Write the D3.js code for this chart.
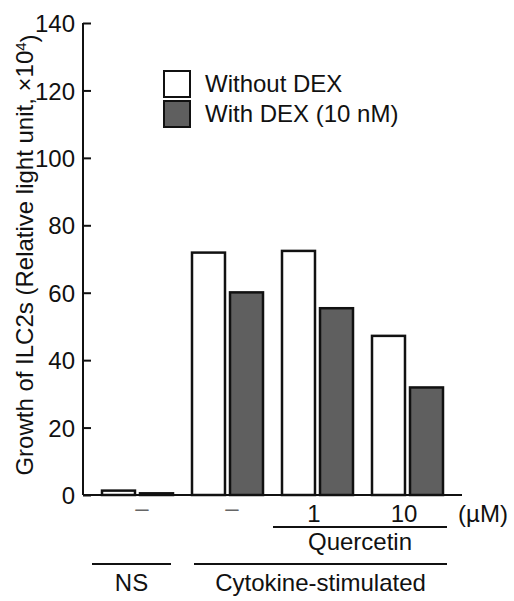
<!DOCTYPE html>
<html lang="en">
	<head>
		<meta charset="utf-8">
		<title>D3: ILC2 growth</title>
		<script type="text/javascript" src="https://cdn.jsdelivr.net/npm/d3@7"></script>
		<style type="text/css">
		body { margin: 0; background: #fff; }
		text { font-family: "Liberation Sans", Arial, Helvetica, sans-serif; fill: #111; }
		.axis path, .axis line { stroke: #111; stroke-width: 2; }
		</style>
	</head>
	<body>
		<script type="text/javascript">

		//Width and height
		var w = 514;
		var h = 601;
		var fs = "24px";

		//data
		var groups = ["NS", "Cyto", "Q1", "Q10"];
		var series = ["Without DEX", "With DEX (10 nM)"];
		var withoutDex = [1.3, 71.9, 72.4, 47.2];
		var withDex = [0.5, 60.1, 55.4, 31.9];
		var doseLabels = ["\u2013", "\u2013", "1", "10"];
		var yTicks = [0, 20, 40, 60, 80, 100, 120, 140];
		var seriesFill = ["#ffffff", "#5f5f5f"];

		var svg = d3.select("body")
					.append("svg")
					.attr("width", w)
					.attr("height", h);

		var x = d3.scaleBand()
				.domain(groups)
				.range([92, 452]);

		var xSub = d3.scaleBand()
				.domain(series)
				.range([10, 81])
				.paddingInner(0.132);

		var y = d3.scaleLinear()
				.domain([0, 140])
				.range([495, 23]);

		var axisX = 83;

		//bars
		var rows = groups.map(function(g, i) {
			return { group: g, values: [withoutDex[i], withDex[i]] };
		});

		var gGroups = svg.selectAll("g.group")
				.data(rows)
				.enter()
				.append("g")
				.attr("class", "group")
				.attr("transform", function(d) { return "translate(" + x(d.group) + ",0)"; });

		gGroups.selectAll("rect")
				.data(function(d) {
					return d.values.map(function(v, j) { return { s: series[j], v: v, j: j }; });
				})
				.enter()
				.append("rect")
				.attr("x", function(d) { return xSub(d.s); })
				.attr("width", xSub.bandwidth())
				.attr("y", function(d) { return y(d.v); })
				.attr("height", function(d) { return y(0) - y(d.v); })
				.style("fill", function(d) { return seriesFill[d.j]; })
				.style("stroke", "#111")
				.style("stroke-width", 2.5);

		//y axis, ticks pointing inward
		var yAxis = d3.axisLeft(y)
				.tickValues(yTicks)
				.tickSizeInner(-8)
				.tickSizeOuter(-8)
				.tickPadding(8);

		var gy = svg.append("g")
				.attr("class", "axis")
				.attr("transform", "translate(" + axisX + ",0)")
				.call(yAxis);
		gy.select(".domain").attr("d", "M0," + y(140) + "V" + y(0));
		gy.selectAll(".tick text")
				.style("font-size", fs)
				.attr("dy", "0.36em");

		//baseline
		svg.append("line")
				.attr("x1", axisX)
				.attr("x2", x.range()[1] + 10)
				.attr("y1", y(0))
				.attr("y2", y(0))
				.style("stroke", "#111")
				.style("stroke-width", 2);

		//y label
		var ylab = svg.append("text")
				.attr("transform", "translate(33,255) rotate(-90)")
				.attr("text-anchor", "middle")
				.style("font-size", fs);
		ylab.append("tspan").text("Growth of ILC2s (Relative light unit, \u00d710");
		ylab.append("tspan")
				.attr("dy", "-0.45em")
				.style("font-size", "15px")
				.text("4");
		ylab.append("tspan")
				.attr("dy", "0.45em")
				.text(")");

		//legend
		var legend = svg.selectAll("g.legend")
				.data(series)
				.enter()
				.append("g")
				.attr("class", "legend")
				.attr("transform", function(d, i) { return "translate(164," + (71 + i * 30) + ")"; });

		legend.append("rect")
				.attr("width", 26)
				.attr("height", 26)
				.style("fill", function(d, i) { return seriesFill[i]; })
				.style("stroke", "#111")
				.style("stroke-width", 2);

		legend.append("text")
				.attr("x", 41)
				.attr("y", 21)
				.style("font-size", fs)
				.text(function(d) { return d; });

		//dose labels
		svg.selectAll("text.dose")
				.data(groups)
				.enter()
				.append("text")
				.attr("class", "dose")
				.attr("x", function(d, i) { return x(d) + x.bandwidth() / 2 + (doseLabels[i] == "\u2013" ? 5 : -3); })
				.attr("y", function(d, i) { return doseLabels[i] == "\u2013" ? 516 : 522; })
				.attr("text-anchor", "middle")
				.style("font-size", fs)
				.style("fill", function(d, i) { return doseLabels[i] == "\u2013" ? "#666" : "#111"; })
				.text(function(d, i) { return doseLabels[i]; });

		svg.append("text")
				.attr("x", 483)
				.attr("y", 522)
				.attr("text-anchor", "middle")
				.style("font-size", fs)
				.text("(\u00b5M)");

		//bracket lines
		var brackets = [
			{ from: "Q1", to: "Q10", x0: 1, x1: 85, y: 527, label: "Quercetin", ly: 550 },
			{ from: "NS", to: "NS", x0: 0, x1: 79, y: 564, label: "NS", ly: 591 },
			{ from: "Cyto", to: "Q10", x0: 12, x1: 85, y: 564, label: "Cytokine-stimulated", ly: 591 }
		];

		brackets.forEach(function(b) {
			var a = x(b.from) + b.x0;
			var c = x(b.to) + b.x1;
			svg.append("line")
				.attr("x1", a)
				.attr("x2", c)
				.attr("y1", b.y)
				.attr("y2", b.y)
				.style("stroke", "#111")
				.style("stroke-width", 1.8);
			svg.append("text")
				.attr("x", (a + c) / 2)
				.attr("y", b.ly)
				.attr("text-anchor", "middle")
				.style("font-size", fs)
				.text(b.label);
		});

		</script>
	</body>
</html>
